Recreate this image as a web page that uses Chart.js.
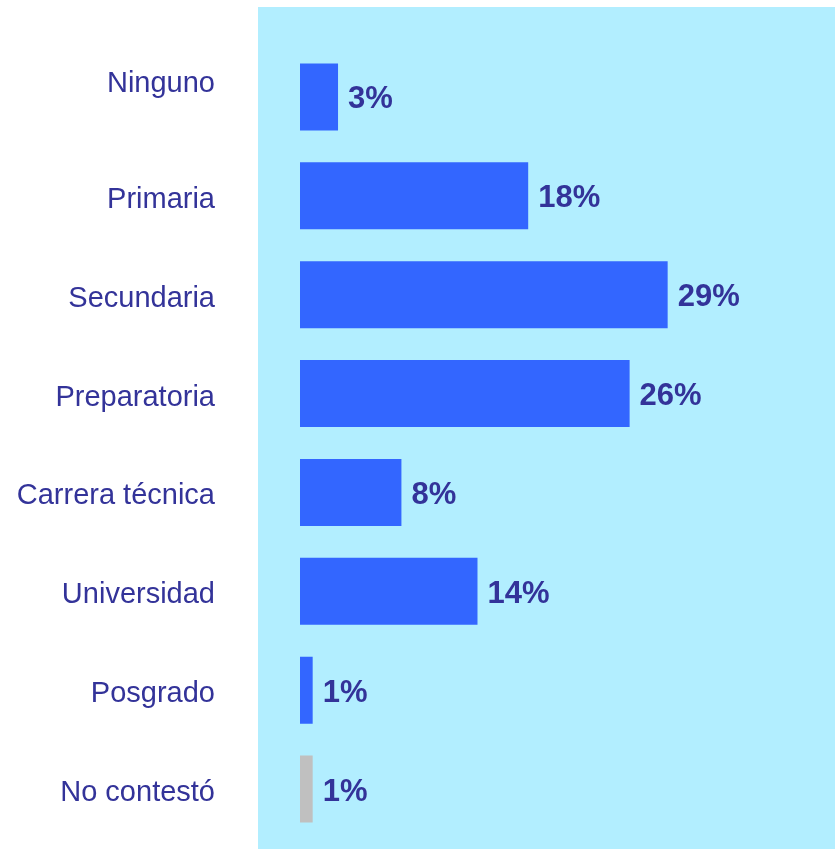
<!DOCTYPE html>
<html>
<head>
<meta charset="utf-8">
<script src="https://cdn.jsdelivr.net/npm/chart.js@4/dist/chart.umd.min.js"></script>
<style>
  html, body { margin: 0; padding: 0; background: #ffffff; }
  #wrap { position: relative; width: 835px; height: 849px; }
  #bg { position: absolute; left: 258px; top: 7px; width: 577px; height: 842px; background: #B2EEFF; }
  #c { position: absolute; left: 0; top: 0; }
</style>
</head>
<body>
<div id="wrap">
  <div id="bg"></div>
  <canvas id="c" width="835" height="849"></canvas>
</div>
<script>
const categories = ['Ninguno', 'Primaria', 'Secundaria', 'Preparatoria', 'Carrera técnica', 'Universidad', 'Posgrado', 'No contestó'];
const values = [3, 18, 29, 26, 8, 14, 1, 1];
const barColors = ['#3366FF', '#3366FF', '#3366FF', '#3366FF', '#3366FF', '#3366FF', '#3366FF', '#C0C0C0'];

const TEXT = '#333399';

const valueLabels = {
  id: 'valueLabels',
  afterDatasetsDraw(chart) {
    const ctx = chart.ctx;
    const meta = chart.getDatasetMeta(0);
    ctx.save();
    ctx.font = 'bold 31px "Liberation Sans", Arial, sans-serif';
    ctx.fillStyle = TEXT;
    ctx.textAlign = 'left';
    ctx.textBaseline = 'middle';
    meta.data.forEach((bar, i) => {
      ctx.fillText(values[i] + '%', bar.x + 10, bar.y + 3);
    });
    ctx.restore();
  }
};

new Chart(document.getElementById('c'), {
  type: 'bar',
  data: {
    labels: categories,
    datasets: [{
      data: values,
      backgroundColor: barColors,
      borderWidth: 0,
      barPercentage: 0.677,
      categoryPercentage: 1.0
    }]
  },
  options: {
    indexAxis: 'y',
    responsive: false,
    animation: false,
    layout: { padding: { top: 47.5, bottom: 10.5, left: 0, right: 0 } },
    plugins: { legend: { display: false }, tooltip: { enabled: false } },
    scales: {
      x: {
        display: false,
        min: 0,
        max: 42.2
      },
      y: {
        grid: { display: false, drawTicks: false },
        border: { display: false },
        ticks: {
          color: TEXT,
          font: { family: '"Liberation Sans", Arial, sans-serif', size: 29 },
          padding: 85,
          labelOffset: 4,
          // in the original the first label sits a little above its bar
          callback(value, index) {
            const label = this.getLabelForValue(value);
            return index === 0 ? [label, ''] : label;
          }
        },
        afterFit(scale) {
          scale.width = 300;
          scale.paddingTop = 0;
          scale.paddingBottom = 0;
        }
      }
    }
  },
  plugins: [valueLabels]
});
</script>
</body>
</html>
